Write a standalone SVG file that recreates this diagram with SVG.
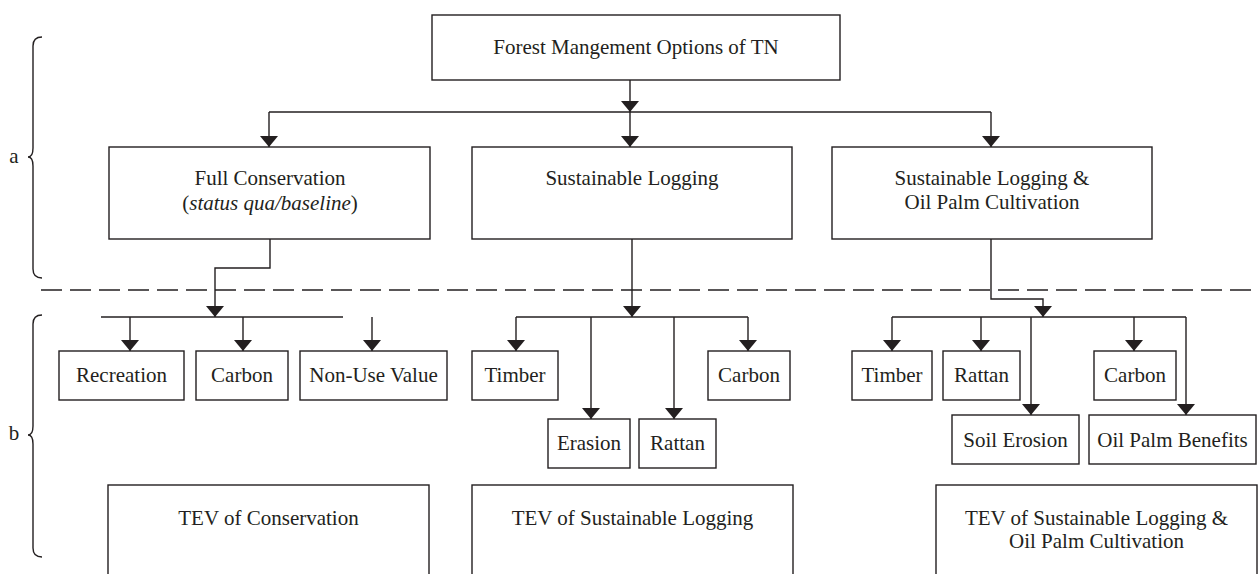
<svg xmlns="http://www.w3.org/2000/svg" width="1259" height="574" viewBox="0 0 1259 574">
<style>
.box{fill:#fff;stroke:#231f20;stroke-width:1.4}
.ln{fill:none;stroke:#231f20;stroke-width:1.4}
.ar{fill:none;stroke:#231f20;stroke-width:1.4;marker-end:url(#ah)}
.dash{fill:none;stroke:#231f20;stroke-width:1.4;stroke-dasharray:21 8}
text{font-family:"Liberation Serif","Times New Roman",serif;font-size:21px;fill:#231f20;text-anchor:middle}
</style>
<defs>
<marker id="ah" viewBox="0 0 11 18" refX="11" refY="9" markerWidth="11" markerHeight="18" markerUnits="userSpaceOnUse" orient="auto">
<path d="M0,0 L11,9 L0,18 Z" fill="#231f20"/>
</marker>
</defs>
<rect width="1259" height="574" fill="#fff"/>
<g id="braces">
<path class="ln" d="M42,37 Q33,37 33,46 L33,148 Q33,157 28,157 Q33,157 33,166 L33,269 Q33,278 42,278"/>
<text x="14" y="163">a</text>
<path class="ln" d="M42,315 Q33,315 33,324 L33,426 Q33,435 28,435 Q33,435 33,444 L33,548 Q33,557 42,557"/>
<text x="14" y="440">b</text>
</g>
<path class="dash" d="M41,290 H1258"/>
<g id="connectors">
<path class="ar" d="M630,80 V112"/>
<path class="ln" d="M269,112 H991"/>
<path class="ar" d="M269,112 V147"/>
<path class="ar" d="M630,112 V147"/>
<path class="ar" d="M991,112 V147"/>
<path class="ar" d="M270,239 V268 H215 V317"/>
<path class="ln" d="M101,317 H343"/>
<path class="ar" d="M130,317 V351"/>
<path class="ar" d="M243,317 V351"/>
<path class="ar" d="M372,317 V351"/>
<path class="ar" d="M632,239 V317"/>
<path class="ln" d="M516,317 H748"/>
<path class="ar" d="M516,317 V351"/>
<path class="ar" d="M591,317 V419"/>
<path class="ar" d="M674,317 V419"/>
<path class="ar" d="M748,317 V351"/>
<path class="ar" d="M991,239 V299 H1043 V317"/>
<path class="ln" d="M892,317 H1186"/>
<path class="ar" d="M892,317 V351"/>
<path class="ar" d="M981,317 V351"/>
<path class="ar" d="M1031,317 V415"/>
<path class="ar" d="M1134,317 V351"/>
<path class="ar" d="M1186,317 V415"/>
</g>
<g id="root"><rect class="box" x="432" y="15" width="408" height="65"/><text x="636" y="54">Forest Mangement Options of TN</text></g>
<g id="conservation"><rect class="box" x="109" y="147" width="321" height="92"/><text x="270" y="185">Full Conservation</text><text x="270" y="210">(<tspan font-style="italic">status qua/baseline</tspan>)</text></g>
<g id="logging"><rect class="box" x="472" y="147" width="320" height="92"/><text x="632" y="185">Sustainable Logging</text></g>
<g id="logging-oilpalm"><rect class="box" x="832" y="147" width="320" height="92"/><text x="992" y="185">Sustainable Logging &amp;</text><text x="992" y="209">Oil Palm Cultivation</text></g>
<g id="c-recreation"><rect class="box" x="59" y="351" width="125" height="49"/><text x="121.5" y="382">Recreation</text></g>
<g id="c-carbon"><rect class="box" x="196" y="351" width="92" height="49"/><text x="242" y="382">Carbon</text></g>
<g id="c-nonuse"><rect class="box" x="300" y="351" width="147" height="49"/><text x="373.5" y="382">Non-Use Value</text></g>
<g id="l-timber"><rect class="box" x="472" y="351" width="86" height="49"/><text x="515" y="382">Timber</text></g>
<g id="l-carbon"><rect class="box" x="708" y="351" width="82" height="49"/><text x="749" y="382">Carbon</text></g>
<g id="l-erasion"><rect class="box" x="548" y="419" width="82" height="49"/><text x="589" y="450">Erasion</text></g>
<g id="l-rattan"><rect class="box" x="639" y="419" width="77" height="49"/><text x="677.5" y="450">Rattan</text></g>
<g id="o-timber"><rect class="box" x="852" y="351" width="80" height="49"/><text x="892" y="382">Timber</text></g>
<g id="o-rattan"><rect class="box" x="943" y="351" width="77" height="49"/><text x="981.5" y="382">Rattan</text></g>
<g id="o-carbon"><rect class="box" x="1094" y="351" width="82" height="49"/><text x="1135" y="382">Carbon</text></g>
<g id="o-soil"><rect class="box" x="952" y="415" width="127" height="49"/><text x="1015.5" y="447">Soil Erosion</text></g>
<g id="o-oilpalm"><rect class="box" x="1089" y="415" width="167" height="49"/><text x="1172.5" y="447">Oil Palm Benefits</text></g>
<g id="tev-conservation"><rect class="box" x="108" y="485" width="321" height="100"/><text x="268.5" y="525">TEV of Conservation</text></g>
<g id="tev-logging"><rect class="box" x="472" y="485" width="321" height="100"/><text x="632.5" y="525">TEV of Sustainable Logging</text></g>
<g id="tev-logging-oilpalm"><rect class="box" x="936" y="485" width="321" height="100"/><text x="1096.5" y="525">TEV of Sustainable Logging &amp;</text><text x="1096.5" y="548">Oil Palm Cultivation</text></g>
</svg>
